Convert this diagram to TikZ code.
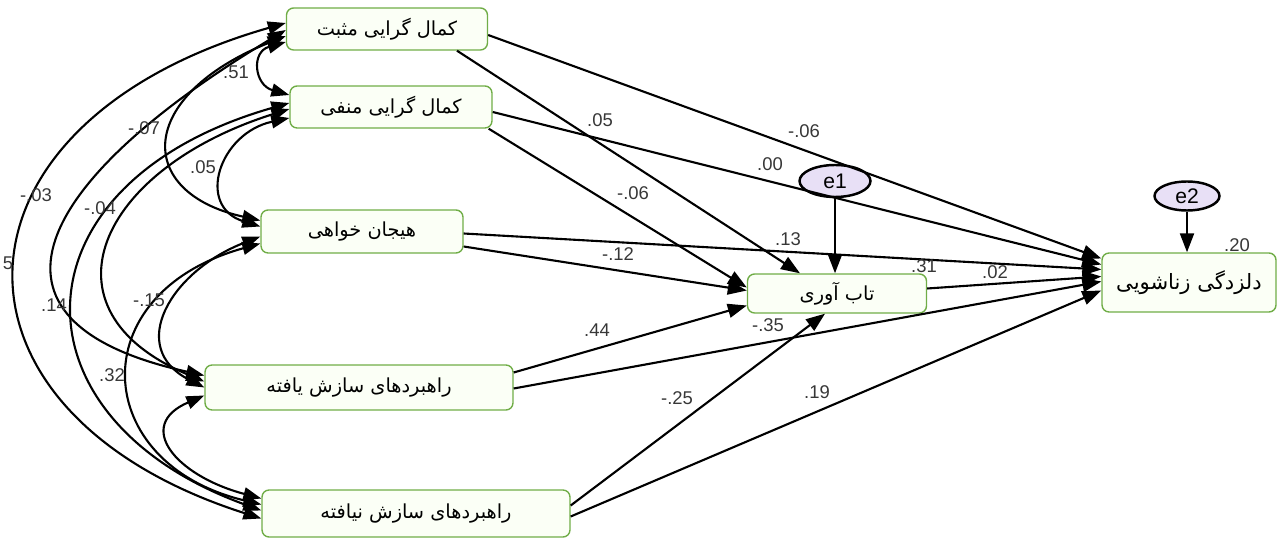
\documentclass[tikz,border=0pt]{standalone}
\usepackage{fontspec}
\setmainfont{Liberation Sans}
\newfontfamily\farsi[Script=Arabic]{DejaVu Sans}
\usetikzlibrary{arrows.meta, shapes.geometric, calc}
\TeXXeTstate=1
\definecolor{boxline}{RGB}{112,173,71}
\definecolor{boxfill}{RGB}{251,255,246}
\definecolor{errfill}{RGB}{232,224,246}
\definecolor{labgray}{RGB}{55,55,55}

\tikzset{
  var/.style={draw=boxline, fill=boxfill, rounded corners=4pt, line width=0.8pt,
    inner sep=0pt, font=\farsi\fontsize{11}{13}\selectfont},
  err/.style={draw, ellipse, fill=errfill, line width=1.4pt, inner sep=0pt,
    minimum width=1.42cm, minimum height=0.64cm, font=\fontsize{12}{14}\selectfont},
  est/.style={font=\fontsize{10.5}{12}\selectfont, text=labgray, inner sep=0pt},
  reg/.style={-{Triangle[length=3.8mm,width=2.8mm]}, line width=1.2pt},
  cov/.style={{Triangle[length=3.6mm,width=2.6mm]}-{Triangle[length=3.6mm,width=2.6mm]}, line width=1.2pt},
}

\begin{document}
\begin{tikzpicture}[x=0.02cm, y=-0.02cm]
\useasboundingbox (0,0) rectangle (1277,540);

% Exogenous variables
\node[var, minimum width=4.02cm, minimum height=0.84cm] (pos) at (387,29) {\beginR کمال گرایی مثبت\endR};
\node[var, minimum width=4.04cm, minimum height=0.84cm] (neg) at (391,107) {\beginR کمال گرایی منفی\endR};
\node[var, minimum width=4.04cm, minimum height=0.86cm] (sens) at (362,231.5) {\beginR هیجان خواهی\endR};
\node[var, minimum width=6.16cm, minimum height=0.9cm] (adapt) at (359,387.5) {\beginR راهبردهای سازش یافته\endR};
\node[var, minimum width=6.16cm, minimum height=0.94cm] (maladapt) at (416,513.5) {\beginR راهبردهای سازش نیافته\endR};

% Mediator and outcome
\node[var, minimum width=3.58cm, minimum height=0.78cm] (resil) at (837,293.5) {\beginR تاب آوری\endR};
\node[var, minimum width=3.48cm, minimum height=1.18cm, font=\farsi\fontsize{12}{14}\selectfont] (disaff) at (1189,282.5) {\beginR دلزدگی زناشویی\endR};

% Error terms
\node[err] (e1) at (835,181) {e1};
\node[err, minimum width=1.3cm, minimum height=0.58cm] (e2) at (1187,196) {e2};

% Paths to the mediator
\draw[reg] ($(pos.south)+(70,0)$) -- ($(resil.north)+(-37,0)$);
\draw[reg] ($(neg.south east)+(-4,0)$) -- ($(resil.west)+(0,-6)$);
\draw[reg] ($(sens.east)+(0,15)$) -- ($(resil.west)+(0,-3)$);
\draw[reg] ($(adapt.east)+(0,-15)$) -- ($(resil.west)+(0,12)$);
\draw[reg] ($(maladapt.east)+(0,-8)$) -- ($(resil.south)+(-12,0)$);
\draw[reg] (e1.south) -- (e1.south |- resil.north);

% Paths to the outcome
\draw[reg] ($(pos.east)+(0,6)$) -- ($(disaff.west)+(0,-24)$);
\draw[reg] ($(neg.east)+(0,5)$) -- ($(disaff.west)+(0,-18)$);
\draw[reg] ($(sens.east)+(0,2)$) -- ($(disaff.west)+(0,-13)$);
\draw[reg] ($(resil.east)+(0,-5)$) -- ($(disaff.west)+(0,-6)$);
\draw[reg] ($(adapt.east)+(0,1)$) -- ($(disaff.west)+(0,-1)$);
\draw[reg] ($(maladapt.east)+(0,3)$) -- ($(disaff.west)+(0,8)$);
\draw[reg] (e2.south) -- (e2.south |- disaff.north);

% Covariances
\draw[cov] ($(pos.west)+(0,13)$) .. controls +(-35,10) and +(-35,-10) .. ($(neg.west)+(0,-12)$);
\draw[cov] ($(pos.west)+(0,7)$) .. controls +(-150,60) and +(-126,-28) .. ($(sens.west)+(0,-11)$);
\draw[cov] ($(neg.west)+(0,11)$) .. controls +(-70,15) and +(-65,-20) .. ($(sens.west)+(0,-5)$);
\draw[cov] ($(pos.west)+(0,1)$) .. controls +(-250,150) and +(-245,-54) .. ($(adapt.west)+(0,-12)$);
\draw[cov] ($(pos.west)+(0,-6)$) .. controls +(-350,100) and +(-335,-107) .. ($(maladapt.west)+(0,5)$);
\draw[cov] ($(neg.west)+(0,-4)$) .. controls +(-280,80) and +(-256,-93) .. ($(maladapt.west)+(0,-3)$);
\draw[cov] ($(neg.west)+(0,2)$) .. controls +(-190,60) and +(-171,-72) .. ($(adapt.west)+(0,-6)$);
\draw[cov] ($(sens.west)+(0,5)$) .. controls +(-90,35) and +(-78,-40) .. (adapt.west);
\draw[cov] ($(sens.west)+(0,12)$) .. controls +(-180,50) and +(-171,-41) .. ($(maladapt.west)+(0,-9)$);
\draw[cov] ($(adapt.west)+(0,8)$) .. controls +(-70,30) and +(-86,-23) .. ($(maladapt.west)+(0,-15)$);

% Estimates
\foreach \n/\x/\y/\v in {c12/236/72/.51, c13/144/128/-.07, c23/203/167/.05,
    c14/36/195/-.03, c24/100/208/-.04, c15/8/263/5, c25/54/305/.14,
    c34/149/300/-.15, c35/112/375/.32,
    a1/600/120/.05, a2/633/193/-.06, a3/618/254/-.12, a4/597/330/.44, a5/677/398/-.25,
    b1/804/131/-.06, b2/770/164/.00, b3/788/239/.13, b4/995/272/.02, b5/768/325/-.35, b6/817/392/.19,
    r1/924/266/.31, r2/1237/245/.20} {
  \node[est] (\n) at (\x,\y) {\v};
}
\end{tikzpicture}
\end{document}
